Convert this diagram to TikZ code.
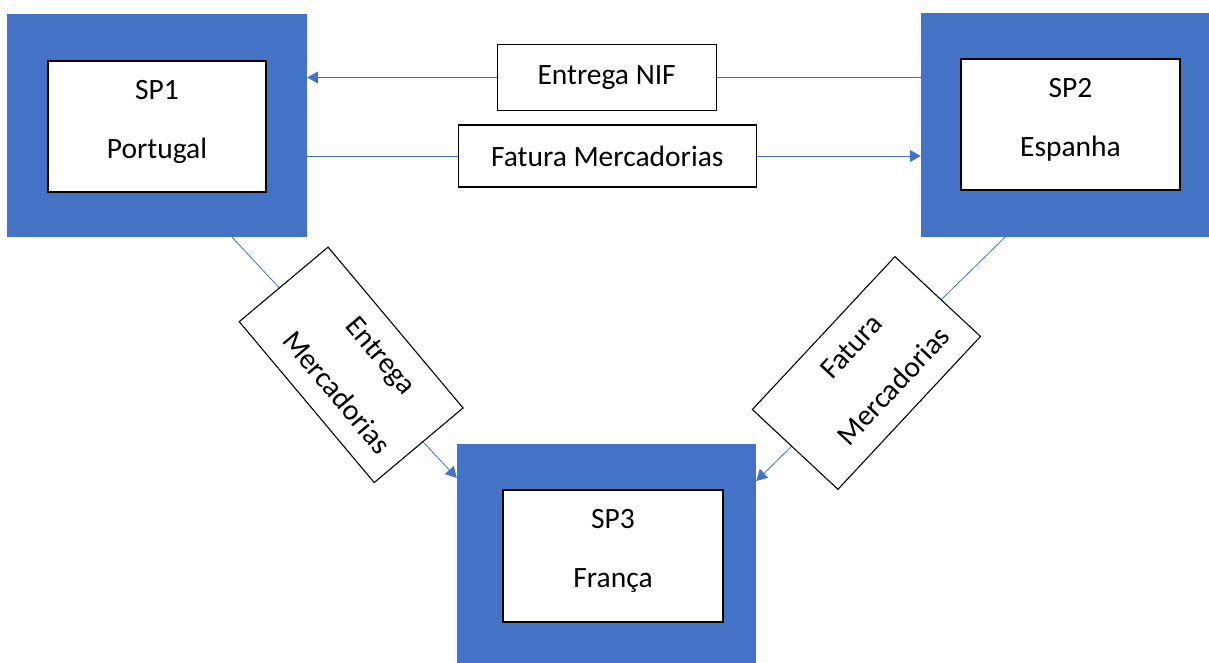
\documentclass[tikz,border=0pt]{standalone}
\usepackage{fontspec}
\setmainfont{Carlito}
\usetikzlibrary{arrows.meta}
\definecolor{offblue}{HTML}{4472C4}
\tikzset{
  x=1pt, y=1pt,
  outerbox/.style={rectangle, fill=offblue, draw=none, inner sep=0pt},
  innerbox/.style={rectangle, fill=white, draw=black, line width=1.2pt, inner sep=0pt, align=center, text depth=15pt, font=\fontsize{29.5}{35}\selectfont},
  labelbox/.style={rectangle, fill=white, draw=black, line width=1.1pt, inner sep=0pt, align=center, font=\fontsize{29.5}{35}\selectfont},
  conn/.style={draw=offblue, line width=0.8pt, -{Triangle[length=11pt,width=12pt]}}
}
\begin{document}
\begin{tikzpicture}
\useasboundingbox (0,0) rectangle (1209,662);
\clip (0,0) rectangle (1209,662);
% outer blue boxes
\node[outerbox, minimum width=300pt, minimum height=223pt] (sp1) at (157,536.5) {};
\node[outerbox, minimum width=300pt, minimum height=224pt] (sp2) at (1071,537) {};
\node[outerbox, minimum width=299pt, minimum height=223pt] (sp3) at (606.5,106.5) {};
% inner white boxes
\node[innerbox, minimum width=218pt, minimum height=131pt] (sp1in) at (157,535.5) {SP1\\[24pt]Portugal};
\node[innerbox, minimum width=219pt, minimum height=131pt] (sp2in) at (1070.5,537.5) {SP2\\[24pt]Espanha};
\node[innerbox, minimum width=220pt, minimum height=132pt] (sp3in) at (613,106) {SP3\\[24pt]França};
% top connectors
\draw[conn] ([yshift=47.5pt]sp2.west) -- node[pos=0.512, labelbox, minimum width=219pt, minimum height=66pt] (nif) {Entrega NIF} ([yshift=48pt]sp1.east);
\draw[conn] ([yshift=-30.5pt]sp1.east) -- node[pos=0.489, labelbox, minimum width=298pt, minimum height=62pt] (fat) {Fatura Mercadorias} ([yshift=-31pt]sp2.west);
% diagonal connectors
\draw[conn] ([xshift=75pt]sp1.south) -- node[pos=0.53, labelbox, rotate=-50, minimum width=210pt, minimum height=116pt] (entm) {\hspace*{24pt}Entrega\\[23pt]\hspace*{24pt}Mercadorias} ([yshift=77.5pt]sp3.west);
\draw[conn] ([xshift=-66pt]sp2.south) -- node[pos=0.557, labelbox, rotate=47, minimum width=209pt, minimum height=117pt] (fatm) {\hspace*{18pt}Fatura\\[23pt]\hspace*{18pt}Mercadorias} ([yshift=74.5pt]sp3.east);
\end{tikzpicture}
\end{document}
